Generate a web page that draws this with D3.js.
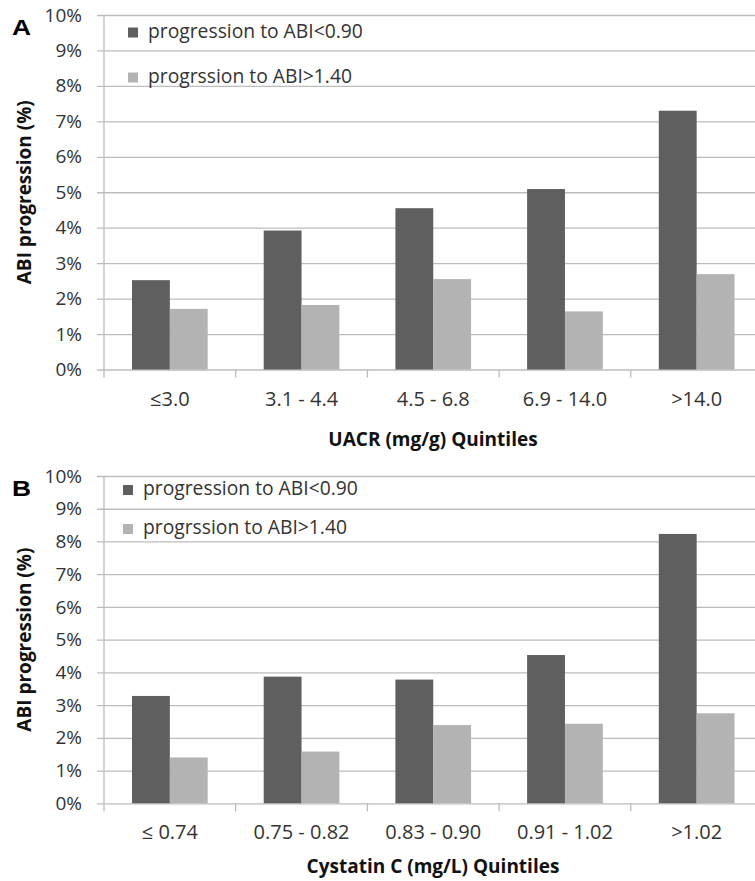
<html>
<head>
<script src="https://d3js.org/d3.v7.min.js"></script>
<style>
  body { margin: 0; background: #fff; }
  text { font-family: "Open Sans", sans-serif; }
</style>
</head>
<body>
<svg width="755" height="881"></svg>
<script>
// data (percent)
var seriesNames = ["progression to ABI<0.90", "progrssion to ABI>1.40"];
var categoriesA = ["≤3.0", "3.1 - 4.4", "4.5 - 6.8", "6.9 - 14.0", ">14.0"];
var lowA = [2.52, 3.92, 4.55, 5.09, 7.30];
var highA = [1.71, 1.82, 2.55, 1.64, 2.69];
var categoriesB = ["≤ 0.74", "0.75 - 0.82", "0.83 - 0.90", "0.91 - 1.02", ">1.02"];
var lowB = [3.28, 3.87, 3.78, 4.53, 8.23];
var highB = [1.40, 1.58, 2.39, 2.43, 2.75];
var yTicks = [0, 1, 2, 3, 4, 5, 6, 7, 8, 9, 10];

var colors = ["#5f5f5f", "#b3b3b3"];
var gridColor = "#bcbcbc";
var textColor = "#333";
var svg = d3.select("svg");

function drawPanel(p) {
    var g = svg.append("g");
    var x = d3.scaleBand().domain(p.categories).range([104, 762.5]);
    var xs = d3.scaleBand().domain([0, 1]).range([0, x.bandwidth()]).paddingOuter(0.74);
    var y = d3.scaleLinear().domain([0, 10]).range([p.bottom, p.top]);

    // gridlines + y tick labels
    var yAxis = d3.axisLeft(y).tickValues(yTicks).tickSize(-(762.5 - 97)).tickPadding(15)
        .tickFormat(function (d) { return d + "%"; });
    var ya = g.append("g").attr("transform", "translate(97,0)").call(yAxis);
    ya.select(".domain").remove();
    ya.selectAll("line").attr("stroke", gridColor).attr("stroke-width", 1.3);
    ya.selectAll("text").attr("fill", textColor).style("font-size", "19px")
        .style("font-family", "'Open Sans', sans-serif");

    // vertical axis line
    g.append("line").attr("x1", 104).attr("x2", 104).attr("y1", p.top).attr("y2", p.bottom + 8)
        .attr("stroke", gridColor).attr("stroke-width", 1.3);

    // category boundary ticks
    g.selectAll(".bt").data(p.categories.slice(1)).enter().append("line")
        .attr("x1", function (d) { return x(d); }).attr("x2", function (d) { return x(d); })
        .attr("y1", p.bottom).attr("y2", p.bottom + 8)
        .attr("stroke", gridColor).attr("stroke-width", 1.3);

    // bars
    var series = [p.low, p.high];
    series.forEach(function (vals, s) {
        g.selectAll(".bar" + s).data(vals).enter().append("rect")
            .attr("x", function (d, i) { return x(p.categories[i]) + xs(s); })
            .attr("width", xs.bandwidth())
            .attr("y", function (d) { return y(d); })
            .attr("height", function (d) { return y(0) - y(d); })
            .attr("fill", colors[s]);
    });

    // x labels
    var xAxis = d3.axisBottom(x).tickSize(0).tickPadding(0);
    var xa = g.append("g").attr("transform", "translate(0," + p.bottom + ")").call(xAxis);
    xa.select(".domain").remove();
    xa.selectAll("text").attr("dy", null).attr("y", 36).attr("fill", textColor)
        .style("font-size", "20px").style("font-family", "'Open Sans', sans-serif");

    // axis titles
    g.append("text").attr("x", 433).attr("y", p.xTitleY).attr("text-anchor", "middle")
        .style("font-size", "19px").style("font-weight", "bold").attr("fill", "#111")
        .text(p.xTitle);
    g.append("text").attr("transform", "translate(31," + ((p.top + p.bottom) / 2) + ") rotate(-90)")
        .attr("text-anchor", "middle")
        .style("font-size", "19px").style("font-weight", "bold").attr("fill", "#111")
        .text("ABI progression (%)");

    // panel letter
    g.append("text").attr("transform", "translate(12," + p.letterY + ") scale(1.2,1)")
        .style("font-family", "'Liberation Sans', Arial, sans-serif")
        .style("font-size", "22px").style("font-weight", "bold").attr("fill", "#000")
        .text(p.letter);

    // legend
    seriesNames.forEach(function (name, s) {
        g.append("rect").attr("x", p.legX).attr("y", p.legY[s] - 10).attr("width", 10).attr("height", 10)
            .attr("fill", colors[s]);
        g.append("text").attr("x", p.legX + 20).attr("y", p.legY[s])
            .style("font-size", "19.3px").attr("fill", textColor).text(name);
    });
}

drawPanel({ categories: categoriesA, low: lowA, high: highA, top: 15, bottom: 369.5,
    xTitle: "UACR (mg/g) Quintiles", xTitleY: 445.5, letter: "A", letterY: 35,
    legX: 128, legY: [37.5, 82.5] });
drawPanel({ categories: categoriesB, low: lowB, high: highB, top: 476, bottom: 803.3,
    xTitle: "Cystatin C (mg/L) Quintiles", xTitleY: 873, letter: "B", letterY: 495.5,
    legX: 123, legY: [495, 534] });
</script>
</body>
</html>
